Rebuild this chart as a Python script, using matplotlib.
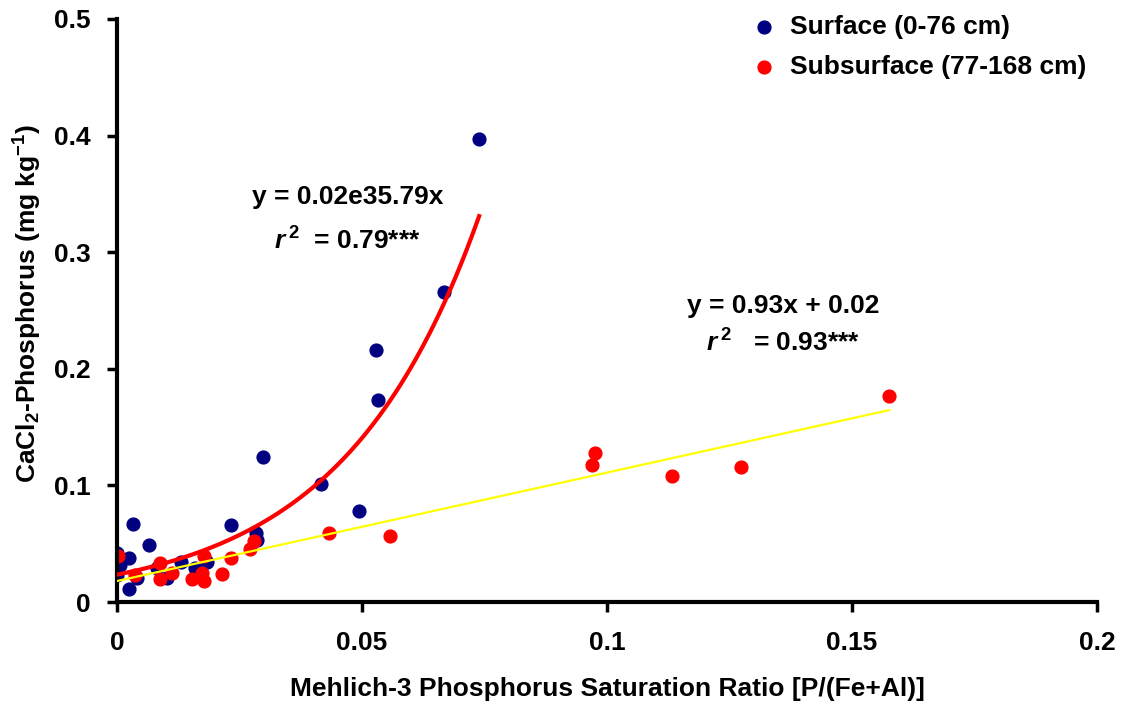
import numpy as np
import matplotlib.pyplot as plt

plt.rcParams['font.family'] = ['Liberation Sans', 'DejaVu Sans']
plt.rcParams['font.weight'] = 'bold'
plt.rcParams['axes.labelweight'] = 'bold'
plt.rcParams['mathtext.fontset'] = 'custom'
plt.rcParams['mathtext.rm'] = 'Liberation Sans:bold'
plt.rcParams['mathtext.it'] = 'Liberation Sans:bold:italic'
plt.rcParams['mathtext.bf'] = 'Liberation Sans:bold'

# Surface (0-76 cm)
surf_x = [0.0739, 0.0667, 0.0529, 0.0533, 0.0297, 0.0416, 0.0493, 0.0032, 0.0065,
          0.0232, 0.0, 0.0024, 0.0006, 0.0, 0.004, 0.0025, 0.0081, 0.0101, 0.0131,
          0.0159, 0.0183, 0.0284, 0.0285]
surf_y = [0.397, 0.266, 0.216, 0.173, 0.1246, 0.101, 0.078, 0.0669, 0.0491,
          0.0658, 0.0418, 0.038, 0.0317, 0.0232, 0.0203, 0.011, 0.029, 0.0203, 0.0346,
          0.029, 0.0346, 0.0594, 0.0532]

# Subsurface (77-168 cm)
sub_x = [0.1576, 0.0976, 0.097, 0.1133, 0.1273, 0.0433, 0.0557, 0.0003, 0.0088,
         0.0088, 0.0112, 0.0037, 0.0154, 0.0173, 0.0178, 0.0178, 0.0215, 0.0232,
         0.0271, 0.028]
sub_y = [0.1767, 0.1278, 0.1175, 0.108, 0.1158, 0.0594, 0.0569, 0.0394, 0.0337,
         0.0194, 0.0252, 0.0232, 0.0194, 0.0252, 0.0183, 0.0394, 0.024, 0.0375,
         0.0452, 0.0526]

# trend lines
exp_a, exp_b = 0.0235, 35.79
lin_m, lin_c = 0.93, 0.018

fig = plt.figure(figsize=(11.22, 7.08), dpi=100)
ax = fig.add_axes([0.1043, 0.1497, 0.8734, 0.8235])

ax.scatter(surf_x, surf_y, s=85, color='#000080', label='Surface (0-76 cm)', zorder=2)
ax.scatter(sub_x, sub_y, s=85, color='#FF0000', label='Subsurface (77-168 cm)', zorder=2)

xe = np.linspace(0, max(surf_x), 200)
ax.plot(xe, exp_a * np.exp(exp_b * xe), color='#FF0000', lw=3, zorder=3)
xl = np.array([0, max(sub_x)])
ax.plot(xl, lin_m * xl + lin_c, color='#FFFF00', lw=1.6, zorder=3)

fs = 19
ax.text(0.047, 0.347, 'y = 0.02e35.79x', ha='center', va='center', fontsize=fs)
ax.text(0.047, 0.310, r'$\mathit{r}^{\,2}$  = 0.79***', ha='center', va='center', fontsize=fs)
ax.text(0.136, 0.254, 'y = 0.93x + 0.02', ha='center', va='center', fontsize=fs)
ax.text(0.136, 0.222, r'$\mathit{r}^{\,2}$   = 0.93***', ha='center', va='center', fontsize=fs)

ax.set_xlim(0, 0.2)
ax.set_ylim(0, 0.5)
ax.set_xticks([0, 0.05, 0.1, 0.15, 0.2])
ax.set_xticklabels(['0', '0.05', '0.1', '0.15', '0.2'])
ax.set_yticks([0, 0.1, 0.2, 0.3, 0.4, 0.5])
ax.set_yticklabels(['0', '0.1', '0.2', '0.3', '0.4', '0.5'])
ax.tick_params(direction='out', length=7, width=2.5, labelsize=fs)
ax.tick_params(axis='x', pad=14)
ax.tick_params(axis='y', pad=12)
for s in ['top', 'right']:
    ax.spines[s].set_visible(False)
for s in ['left', 'bottom']:
    ax.spines[s].set_linewidth(3)

ax.set_xlabel('Mehlich-3 Phosphorus Saturation Ratio [P/(Fe+Al)]', fontsize=fs,
              fontweight='bold', labelpad=16)
ax.set_ylabel(r'CaCl$_{2}$-Phosphorus (mg kg$^{-1}$)', fontsize=fs, fontweight='bold')
ax.yaxis.set_label_coords(-0.0745, 0.513)

leg = ax.legend(loc='upper right', bbox_to_anchor=(1.0, 1.025), frameon=False, fontsize=fs,
                handletextpad=0.0, markerscale=1.0, borderaxespad=0, labelspacing=0.6)

fig.savefig('out.png', dpi=100)
